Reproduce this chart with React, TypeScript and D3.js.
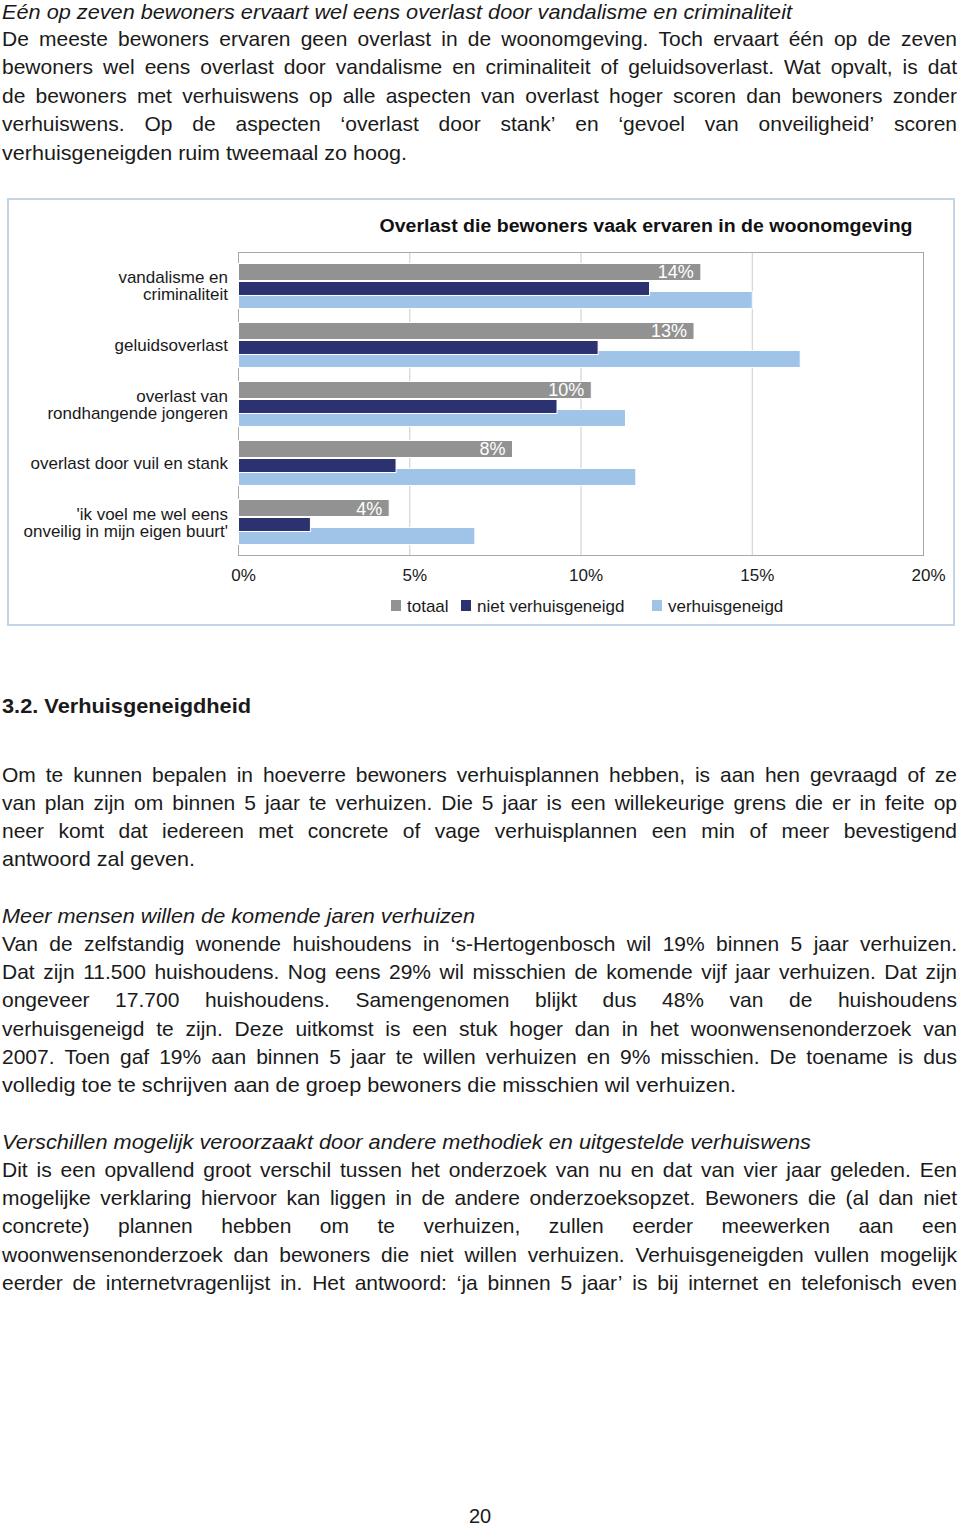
import React, { useMemo } from 'react';
import * as d3 from 'd3';

// ---------- chart data ----------
const categoryKeys = ['vandalisme', 'geluid', 'jongeren', 'vuil', 'onveilig'];
const categoryLabels = [
  ['vandalisme en', 'criminaliteit'],
  ['geluidsoverlast'],
  ['overlast van', 'rondhangende jongeren'],
  ['overlast door vuil en stank'],
  ["'ik voel me wel eens", "onveilig in mijn eigen buurt'"],
];
const totaal = [13.5, 13.3, 10.3, 8.0, 4.4];
const nietVerhuisgeneigd = [12.0, 10.5, 9.3, 4.6, 2.1];
const verhuisgeneigd = [15.0, 16.4, 11.3, 11.6, 6.9];
const totaalLabels = ['14%', '13%', '10%', '8%', '4%'];
const xTicks = [0, 5, 10, 15, 20];
const seriesNames = ['totaal', 'niet verhuisgeneigd', 'verhuisgeneigd'];
const seriesColors = ['#929292', '#2c3270', '#9fc4e7'];
const chartTitle = 'Overlast die bewoners vaak ervaren in de woonomgeving';

// ---------- page text ----------
type Line = { t: string; y: number; s?: 'i' | 'b'; j?: boolean; w?: number };
const pageLines: Line[] = [
  { t: 'Eén op zeven bewoners ervaart wel eens overlast door vandalisme en criminaliteit', y: 19, s: 'i', w: 790 },
  { t: 'De meeste bewoners ervaren geen overlast in de woonomgeving. Toch ervaart één op de zeven', y: 46, j: true },
  { t: 'bewoners wel eens overlast door vandalisme en criminaliteit of geluidsoverlast. Wat opvalt, is dat', y: 74, j: true },
  { t: 'de bewoners met verhuiswens op alle aspecten van overlast hoger scoren dan bewoners zonder', y: 103, j: true },
  { t: 'verhuiswens. Op de aspecten \u2018overlast door stank\u2019 en \u2018gevoel van onveiligheid\u2019 scoren', y: 131, j: true },
  { t: 'verhuisgeneigden ruim tweemaal zo hoog.', y: 160, w: 405 },
  { t: '3.2. Verhuisgeneigdheid', y: 713, s: 'b', w: 249 },
  { t: 'Om te kunnen bepalen in hoeverre bewoners verhuisplannen hebben, is aan hen gevraagd of ze', y: 782, j: true },
  { t: 'van plan zijn om binnen 5 jaar te verhuizen. Die 5 jaar is een willekeurige grens die er in feite op', y: 810, j: true },
  { t: 'neer komt dat iedereen met concrete of vage verhuisplannen een min of meer bevestigend', y: 838, j: true },
  { t: 'antwoord zal geven.', y: 866, w: 193 },
  { t: 'Meer mensen willen de komende jaren verhuizen', y: 923, s: 'i', w: 473 },
  { t: 'Van de zelfstandig wonende huishoudens in \u2018s-Hertogenbosch wil 19% binnen 5 jaar verhuizen.', y: 951, j: true },
  { t: 'Dat zijn 11.500 huishoudens. Nog eens 29% wil misschien de komende vijf jaar verhuizen. Dat zijn', y: 979, j: true },
  { t: 'ongeveer 17.700 huishoudens. Samengenomen blijkt dus 48% van de huishoudens', y: 1007, j: true },
  { t: 'verhuisgeneigd te zijn. Deze uitkomst is een stuk hoger dan in het woonwensenonderzoek van', y: 1036, j: true },
  { t: '2007. Toen gaf 19% aan binnen 5 jaar te willen verhuizen en 9% misschien. De toename is dus', y: 1064, j: true },
  { t: 'volledig toe te schrijven aan de groep bewoners die misschien wil verhuizen.', y: 1092, w: 734 },
  { t: 'Verschillen mogelijk veroorzaakt door andere methodiek en uitgestelde verhuiswens', y: 1149, s: 'i', w: 809 },
  { t: 'Dit is een opvallend groot verschil tussen het onderzoek van nu en dat van vier jaar geleden. Een', y: 1177, j: true },
  { t: 'mogelijke verklaring hiervoor kan liggen in de andere onderzoeksopzet. Bewoners die (al dan niet', y: 1205, j: true },
  { t: 'concrete) plannen hebben om te verhuizen, zullen eerder meewerken aan een', y: 1233, j: true },
  { t: 'woonwensenonderzoek dan bewoners die niet willen verhuizen. Verhuisgeneigden vullen mogelijk', y: 1262, j: true },
  { t: 'eerder de internetvragenlijst in. Het antwoord: \u2018ja binnen 5 jaar\u2019 is bij internet en telefonisch even', y: 1290, j: true },
];

const FONT = 'Liberation Sans, Arial, Helvetica, sans-serif';
const BODY_SIZE = 21;
const CHART_SIZE = 17;
const TEXT_X = 2;
const TEXT_W = 955;
const TEXT_COLOR = '#1a1a1a';

let ctxCache: CanvasRenderingContext2D | null = null;
function measure(text: string, font: string) {
  if (!ctxCache) ctxCache = document.createElement('canvas').getContext('2d');
  ctxCache!.font = font;
  return ctxCache!.measureText(text).width;
}

function JustifiedLine({ line }: { line: Line }) {
  const font = `${BODY_SIZE}px "Liberation Sans"`;
  const words = line.t.split(' ');
  const ws = words.map((w) => measure(w, font));
  const gap = (TEXT_W - d3.sum(ws)) / (words.length - 1);
  let x = TEXT_X;
  const pos = ws.map((w) => {
    const p = x;
    x += w + gap;
    return p;
  });
  return (
    <text y={line.y} fontFamily={FONT} fontSize={BODY_SIZE} fill={TEXT_COLOR}>
      {words.map((w, i) => (
        <tspan key={i} x={pos[i]}>
          {w}
        </tspan>
      ))}
    </text>
  );
}

function PlainLine({ line }: { line: Line }) {
  return (
    <text
      x={TEXT_X}
      y={line.y}
      fontFamily={FONT}
      fontSize={BODY_SIZE}
      fontStyle={line.s === 'i' ? 'italic' : 'normal'}
      fontWeight={line.s === 'b' ? 'bold' : 'normal'}
      fill={TEXT_COLOR}
      textLength={line.w}
      lengthAdjust="spacingAndGlyphs"
    >
      {line.t}
    </text>
  );
}

function Chart() {
  const x = d3.scaleLinear().domain([0, 20]).range([238.5, 923.5]);
  const y = d3
    .scaleBand<string>()
    .domain(categoryKeys)
    .range([252.5, 555.5])
    .paddingInner(0.237)
    .paddingOuter(0.186);
  const [top, bottom] = y.range();
  const series = [totaal, nietVerhuisgeneigd, verhuisgeneigd];
  // bar offsets inside each group (gray, navy, light blue)
  const barOffsets = [
    [0, 17],
    [18, 14],
    [28, 17],
  ];
  const drawOrder = [0, 2, 1];
  return (
    <g>
      <rect x={8} y={199} width={946} height={426} fill="#fff" stroke="#c3d4e4" strokeWidth={2} />
      <text
        x={646}
        y={232}
        textAnchor="middle"
        fontFamily={FONT}
        fontWeight="bold"
        fontSize={18}
        fill="#111"
        textLength={533}
        lengthAdjust="spacingAndGlyphs"
      >
        {chartTitle}
      </text>
      {/* gridlines */}
      {xTicks.slice(1, -1).map((t) => (
        <line key={t} x1={x(t)} x2={x(t)} y1={top} y2={bottom} stroke="#cbcbcb" strokeWidth={1} />
      ))}
      <rect x={x(0)} y={top} width={x(20) - x(0)} height={bottom - top} fill="none" stroke="#a8a8a8" strokeWidth={1} />
      {/* bars */}
      {categoryKeys.map((c, ci) =>
        drawOrder.map((si) => {
          const y0 = y(c)!;
          const [off, h] = barOffsets[si];
          return (
            <rect
              key={c + si}
              x={x(0)}
              y={y0 + off}
              width={x(series[si][ci]) - x(0)}
              height={h}
              fill={seriesColors[si]}
              stroke="#fff"
              strokeWidth={1}
            />
          );
        })
      )}
      {/* value labels */}
      {categoryKeys.map((c, ci) => (
        <text
          key={'v' + c}
          x={x(totaal[ci]) - 7}
          y={y(c)! + 15}
          textAnchor="end"
          fontFamily={FONT}
          fontSize={18}
          fill="#fff"
        >
          {totaalLabels[ci]}
        </text>
      ))}
      {/* category labels */}
      {categoryKeys.map((c, ci) => {
        const lines = categoryLabels[ci];
        const cy = y(c)! + y.bandwidth() / 2;
        return (
          <text key={'c' + c} x={228} textAnchor="end" fontFamily={FONT} fontSize={CHART_SIZE} fill="#1a1a1a">
            {lines.map((l, li) => (
              <tspan key={li} x={228} y={cy + 6 + (li - (lines.length - 1) / 2) * 17}>
                {l}
              </tspan>
            ))}
          </text>
        );
      })}
      {/* x tick labels */}
      {xTicks.map((t) => (
        <text
          key={'t' + t}
          x={x(t) + 5}
          y={581}
          textAnchor="middle"
          fontFamily={FONT}
          fontSize={CHART_SIZE}
          fill="#1a1a1a"
        >
          {t}%
        </text>
      ))}
      {/* legend */}
      {seriesNames.map((n, i) => {
        const lx = [391, 461, 652][i];
        return (
          <g key={n}>
            <rect x={lx} y={600} width={10} height={11} fill={seriesColors[i]} />
            <text x={lx + 16} y={612} fontFamily={FONT} fontSize={CHART_SIZE} fill="#1a1a1a">
              {n}
            </text>
          </g>
        );
      })}
    </g>
  );
}

export default function App() {
  const lines = useMemo(() => pageLines, []);
  return (
    <svg
      width={960}
      height={1526}
      viewBox="0 0 960 1526"
      style={{ position: 'absolute', left: 0, top: 0, display: 'block', background: '#fff' }}
    >
      <rect x={0} y={0} width={960} height={1526} fill="#fff" />
      {lines.map((l, i) => (l.j ? <JustifiedLine key={i} line={l} /> : <PlainLine key={i} line={l} />))}
      <Chart />
      <text x={480} y={1523} textAnchor="middle" fontFamily={FONT} fontSize={20} fill={TEXT_COLOR}>
        20
      </text>
    </svg>
  );
}
